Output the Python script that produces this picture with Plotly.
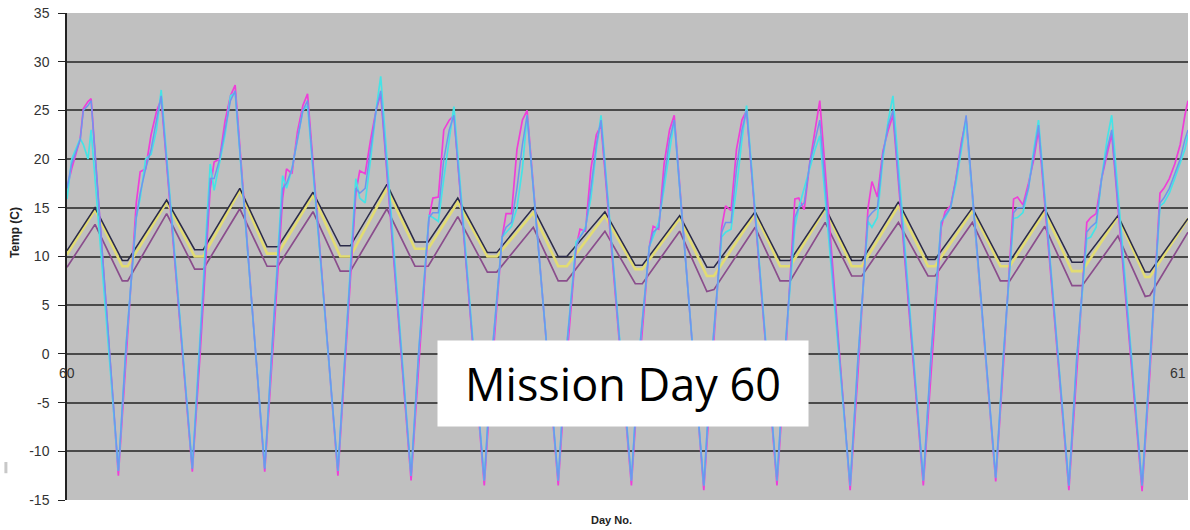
import plotly.graph_objects as go

# ---- time grids (minutes into mission day 60) ----
t_big = [0, 6, 17, 21, 27, 31,
         66, 76, 89, 94, 101, 108, 115, 121,
         161, 171, 184, 189, 196, 203, 210, 216,
         254, 264, 277, 282, 289, 296, 303, 309,
         348, 358, 371, 376, 383, 390, 397, 403,
         442, 452, 465, 470, 477, 484, 491, 497,
         536, 546, 559, 564, 571, 578, 585, 591,
         631, 641, 654, 659, 666, 673, 680, 686,
         725, 735, 748, 753, 760, 767, 774, 780,
         818, 828, 841, 846, 853, 860, 867, 873,
         912, 922, 935, 940, 947, 954, 961, 967,
         1006, 1016, 1029, 1034, 1041, 1048, 1055, 1061,
         1100, 1110, 1123, 1128, 1135, 1142, 1149, 1155,
         1193, 1203, 1216, 1221, 1228, 1235, 1242, 1248,
         1287, 1297, 1310, 1315, 1322, 1329, 1336, 1342,
         1381, 1391, 1404, 1409, 1416, 1423, 1430, 1436, 1440]

magenta = [17.0, 19.0, 22.1, 25.2, 25.9, 26.2,
           -12.5, 0, 15.5, 18.7, 19.0, 22.5, 24.9, 26.2,
           -12.1, 0, 17.0, 19.7, 20.0, 23.9, 26.5, 27.6,
           -12.1, 0, 16.0, 19.0, 18.5, 22.8, 25.5, 26.7,
           -12.5, 0, 16.5, 18.8, 18.5, 22.0, 25.0, 26.7,
           -13.0, -1, 14.0, 16.0, 16.1, 23.0, 24.0, 24.5,
           -13.5, -1.5, 12.0, 14.4, 14.4, 21.0, 24.0, 25.0,
           -13.5, -1.5, 11.0, 12.8, 12.6, 19.0, 22.5, 23.5,
           -13.5, -1.5, 11.0, 13.1, 12.8, 19.5, 23.0, 24.5,
           -14.0, -2, 13.0, 15.2, 14.7, 21.0, 24.0, 25.0,
           -13.5, -1.5, 15.9, 16.0, 14.8, 19.5, 23.0, 26.0,
           -14.0, -2, 15.0, 17.7, 16.1, 20.8, 23.0, 24.5,
           -13.5, -1.5, 13.0, 14.6, 15.2, 18.0, 21.8, 24.0,
           -13.1, -1, 15.9, 16.1, 15.3, 17.5, 20.0, 23.0,
           -14.0, -2, 13.5, 14.0, 14.4, 18.0, 20.5, 22.6,
           -14.1, -2, 16.5, 17.0, 18.0, 19.5, 21.5, 24.5, 26.0]

cyan = [15.9, 20.0, 22.1, 21.5, 20.0, 23.0,
        -12.0, 1, 14.0, 16.0, 20.0, 20.5, 23.0, 27.1,
        -11.7, 1.5, 19.5, 16.8, 19.5, 22.5, 26.5, 26.8,
        -11.7, 1.5, 18.3, 17.0, 19.0, 22.0, 25.0, 25.5,
        -12.0, 1, 18.0, 16.0, 15.5, 20.0, 25.0, 28.5,
        -12.5, 0.5, 14.2, 14.0, 13.6, 18.0, 22.0, 25.4,
        -13.0, 0, 12.0, 12.5, 13.1, 15.0, 19.0, 24.5,
        -13.0, 0, 11.5, 12.0, 13.0, 16.0, 21.0, 24.5,
        -13.0, 0, 11.0, 12.0, 13.5, 17.0, 21.0, 24.0,
        -13.5, -0.5, 12.0, 12.5, 12.8, 17.0, 22.0, 25.5,
        -13.0, 0, 13.0, 15.0, 17.0, 19.0, 21.0, 22.4,
        -13.5, -0.5, 13.6, 13.0, 14.0, 20.0, 24.0, 26.5,
        -13.0, 0, 13.6, 14.0, 15.0, 17.5, 21.0, 24.0,
        -12.7, 0, 13.9, 14.0, 14.5, 17.0, 21.0, 24.0,
        -13.5, -0.5, 11.8, 12.0, 13.0, 18.0, 22.0, 24.5,
        -13.5, -0.5, 15.2, 15.5, 16.5, 18.0, 19.5, 21.0, 22.5]

blue = [17.0, 19.5, 22.0, 25.0, 25.5, 26.0,
        -12.0, 1, 14.0, 16.5, 19.0, 21.0, 24.0, 26.5,
        -11.8, 1.5, 18.0, 18.0, 20.0, 23.0, 26.0, 27.0,
        -11.8, 1.5, 17.0, 17.5, 19.0, 22.0, 25.0, 26.0,
        -12.0, 1, 17.0, 16.5, 17.0, 21.0, 25.0, 27.0,
        -12.5, 0.5, 14.0, 14.5, 14.5, 20.0, 23.0, 24.5,
        -13.0, 0, 12.0, 13.0, 13.5, 17.0, 21.5, 24.5,
        -13.0, 0, 11.0, 12.0, 12.8, 17.0, 21.5, 24.0,
        -13.0, 0, 11.0, 12.5, 13.0, 18.0, 22.0, 24.0,
        -13.5, -0.5, 12.5, 13.5, 13.5, 19.0, 23.0, 25.0,
        -13.0, 0, 14.0, 15.0, 15.5, 19.5, 22.0, 24.0,
        -13.5, -0.5, 14.0, 14.5, 15.0, 20.5, 23.5, 25.0,
        -13.0, 0, 13.5, 14.2, 15.0, 18.0, 21.5, 24.5,
        -12.7, 0, 14.5, 15.0, 15.0, 17.0, 20.5, 23.5,
        -13.5, -0.5, 12.5, 13.0, 13.5, 18.0, 21.0, 23.0,
        -13.5, -0.5, 15.5, 16.0, 17.0, 18.5, 20.0, 22.0, 23.0]

t_tri = [0, 36, 71, 78, 128, 164, 175, 222, 257, 271, 316, 351, 364, 411,
         447, 464, 502, 540, 552, 599, 631, 642, 691, 730, 739, 787, 822, 831,
         884, 916, 929, 974, 1008, 1021, 1068, 1106, 1115, 1163, 1199, 1211,
         1256, 1291, 1304, 1350, 1385, 1391, 1440]

dark = [10.6, 15.0, 9.6, 9.6, 15.8, 10.7, 10.7, 17.0, 11.0, 11.0, 16.6, 11.1, 11.1, 17.4,
        11.5, 11.5, 16.0, 10.4, 10.4, 15.0, 10.0, 10.0, 14.6, 9.1, 9.1, 14.2, 8.9, 8.9,
        14.6, 9.6, 9.6, 15.0, 9.6, 9.6, 15.6, 9.7, 9.7, 15.0, 9.5, 9.5,
        14.9, 9.4, 9.4, 14.2, 8.4, 8.4, 13.9]

yellow = [10.2, 14.8, 9.0, 9.0, 15.6, 10.0, 10.0, 16.8, 10.3, 10.3, 16.3, 10.0, 10.0, 17.0,
          10.8, 10.8, 15.6, 10.0, 10.0, 14.5, 9.0, 9.0, 14.2, 8.7, 8.7, 13.9, 8.0, 8.0,
          14.4, 9.0, 9.0, 14.9, 9.0, 9.0, 15.2, 9.0, 9.0, 14.7, 9.0, 9.0,
          14.6, 8.5, 8.5, 14.1, 7.9, 7.9, 13.9]

purple = [8.9, 13.3, 7.5, 7.5, 14.4, 8.7, 8.7, 14.9, 9.0, 9.0, 14.6, 8.5, 8.5, 14.9,
          9.0, 9.0, 14.1, 8.4, 8.4, 13.0, 7.5, 7.5, 12.6, 7.2, 7.2, 12.6, 6.4, 6.6,
          13.0, 7.5, 7.5, 13.5, 8.0, 8.0, 13.5, 8.0, 8.0, 13.5, 7.5, 7.5,
          13.1, 7.0, 7.0, 12.1, 5.9, 6.0, 12.5]

x_ticks = [60, 61]
x_ticktext = ["60", "61"]
x_tickanchor = ["center", "right"]
y_ticks = [-15, -10, -5, 0, 5, 10, 15, 20, 25, 30, 35]
y_ticktext = ["-15", "-10", "-5", "0", "5", "10", "15", "20", "25", "30", "35"]

day0 = 60
xb = [day0 + t / 1440 for t in t_big]
xt = [day0 + t / 1440 for t in t_tri]

fig = go.Figure()
fig.add_trace(go.Scatter(x=xt, y=yellow, mode="lines", line=dict(color="#e2dc72", width=2.6)))
fig.add_trace(go.Scatter(x=xt, y=dark, mode="lines", line=dict(color="#2a2a48", width=1.5)))
fig.add_trace(go.Scatter(x=xt, y=purple, mode="lines", line=dict(color="#8a4d8c", width=1.7)))
fig.add_trace(go.Scatter(x=xb, y=magenta, mode="lines", line=dict(color="#ee3fd8", width=1.7)))
fig.add_trace(go.Scatter(x=xb, y=cyan, mode="lines", line=dict(color="#45e3e6", width=1.7)))
fig.add_trace(go.Scatter(x=xb, y=blue, mode="lines", line=dict(color="#6e95ee", width=1.5)))

# x tick labels sit just under the 0 gridline (axis crosses at 0)
tick_annots = [dict(text=lbl, x=v, y=0, xref="x", yref="y", xanchor=anc,
                    yanchor="middle", yshift=-19, showarrow=False,
                    font=dict(size=14, color="#333333"))
               for v, lbl, anc in zip(x_ticks, x_ticktext, x_tickanchor)]

fig.update_layout(
    width=1190, height=530,
    margin=dict(l=67, r=2, t=13, b=30, autoexpand=False),
    paper_bgcolor="white", plot_bgcolor="#c0c0c0",
    showlegend=False,
    font=dict(family="Liberation Sans, Arial, sans-serif", color="#333333"),
    xaxis=dict(range=[60, 61], showticklabels=False,
               showgrid=False, zeroline=False, showline=False, ticks="",
               automargin=False),
    yaxis=dict(range=[-15, 35], tickvals=y_ticks, ticktext=y_ticktext, showgrid=True,
               gridcolor="#4a4a4a", gridwidth=1.5, zeroline=False, automargin=False,
               showline=True, linecolor="#222222", linewidth=1.5,
               ticks="outside", ticklen=7, tickcolor="#222222", tickwidth=1.2,
               ticklabelstandoff=6, tickfont=dict(size=14, color="#333333")),
    shapes=[dict(type="line", xref="paper", yref="paper", x0=-0.0545, x1=-0.0545,
                 y0=0.055, y1=0.078, line=dict(color="#c8c8c8", width=3))],
    annotations=tick_annots + [
        dict(text="<b>Temp (C)</b>", xref="paper", yref="paper", x=0, y=0.548,
             xshift=-52, xanchor="center", yanchor="middle", textangle=-90,
             showarrow=False, font=dict(size=12, color="#222222")),
        dict(text="<b>Day No.</b>", xref="paper", yref="paper", x=0.486, y=-0.041,
             xanchor="center", yanchor="middle",
             showarrow=False, font=dict(size=11, color="#222222")),
        dict(text="Mission Day 60", xref="paper", yref="paper", x=0.496, y=0.239,
             xanchor="center", yanchor="middle",
             showarrow=False, bgcolor="white", width=370, height=85, borderpad=0,
             font=dict(family="Open Sans, sans-serif", size=45, color="black")),
    ],
)

fig.write_html("out.html", config={"displayModeBar": False},
               post_script="document.body.style.margin='0px';document.body.style.overflow='hidden';")
